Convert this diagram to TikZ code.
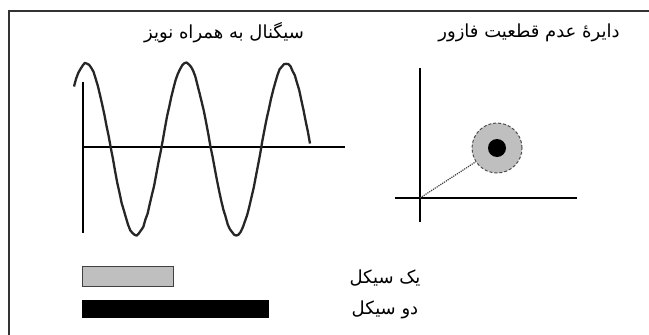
\documentclass[tikz,border=0pt]{standalone}
\usepackage{fontspec}
\TeXXeTstate=1
\newfontfamily\arabicfont[Script=Arabic]{DejaVu Sans}
\tikzset{
  axisline/.style={draw=black, line width=1.1pt},
  framelinestyle/.style={draw=black!80, line width=1.8pt},
  wavestyle/.style={draw=black!85, line width=2.3pt, line join=round},
  label/.style={font=\arabicfont\fontsize{18}{20}\selectfont, inner sep=0pt},
}
\begin{document}
\begin{tikzpicture}[x=1pt,y=-1pt]
\useasboundingbox (0,0) rectangle (649,335);
% frame (top and left edges)
\coordinate (fr) at (649,11);
\coordinate (fc) at (9,11);
\coordinate (fb) at (9,335);
\draw[framelinestyle] (fr) -- (fc) -- (fb);
% titles
\node[label] (t1) at (224,33) {\beginR سیگنال به همراه نویز\endR};
\node[label] (t2) at (529,33) {\beginR دایرهٔ عدم قطعیت فازور\endR};
% signal axes
\coordinate (sv1) at (83,82);
\coordinate (sv2) at (83,233);
\coordinate (sh1) at (83,147);
\coordinate (sh2) at (345,147);
\draw[axisline] (sv1) -- (sv2);
\draw[axisline] (sh1) -- (sh2);
% noisy sine wave
\pgfmathsetseed{7}
\draw[wavestyle]
  plot[domain=74:310, samples=110] (\x, {149-86*cos(3.6*(\x-86))+0.9*rand});
% phasor axes
\coordinate (pv1) at (420,68);
\coordinate (pv2) at (420,222);
\coordinate (ph1) at (395,198);
\coordinate (ph2) at (577,198);
\draw[axisline] (pv1) -- (pv2);
\draw[axisline] (ph1) -- (ph2);
\coordinate (o) at (420,198);
% uncertainty circle
\node[circle, minimum size=50pt, inner sep=0pt, fill=black!25, draw=black!70, densely dashed, line width=1pt] (circ) at (497,148) {};
\node[circle, minimum size=18pt, inner sep=0pt, fill=black] (dot) at (497,148) {};
\draw[black!75, line width=1.2pt, densely dotted] (o) -- (circ);
% bars
\node[draw=black!75, line width=1.2pt, fill=black!25, minimum width=91pt, minimum height=20pt, inner sep=0pt, anchor=north west] (b1) at (82,266) {};
\node[fill=black, minimum width=187pt, minimum height=18pt, inner sep=0pt, anchor=north west] (b2) at (82,300) {};
\node[label] (l1) at (385,278) {\beginR یک سیکل\endR};
\node[label] (l2) at (385,310) {\beginR دو سیکل\endR};
\end{tikzpicture}
\end{document}
